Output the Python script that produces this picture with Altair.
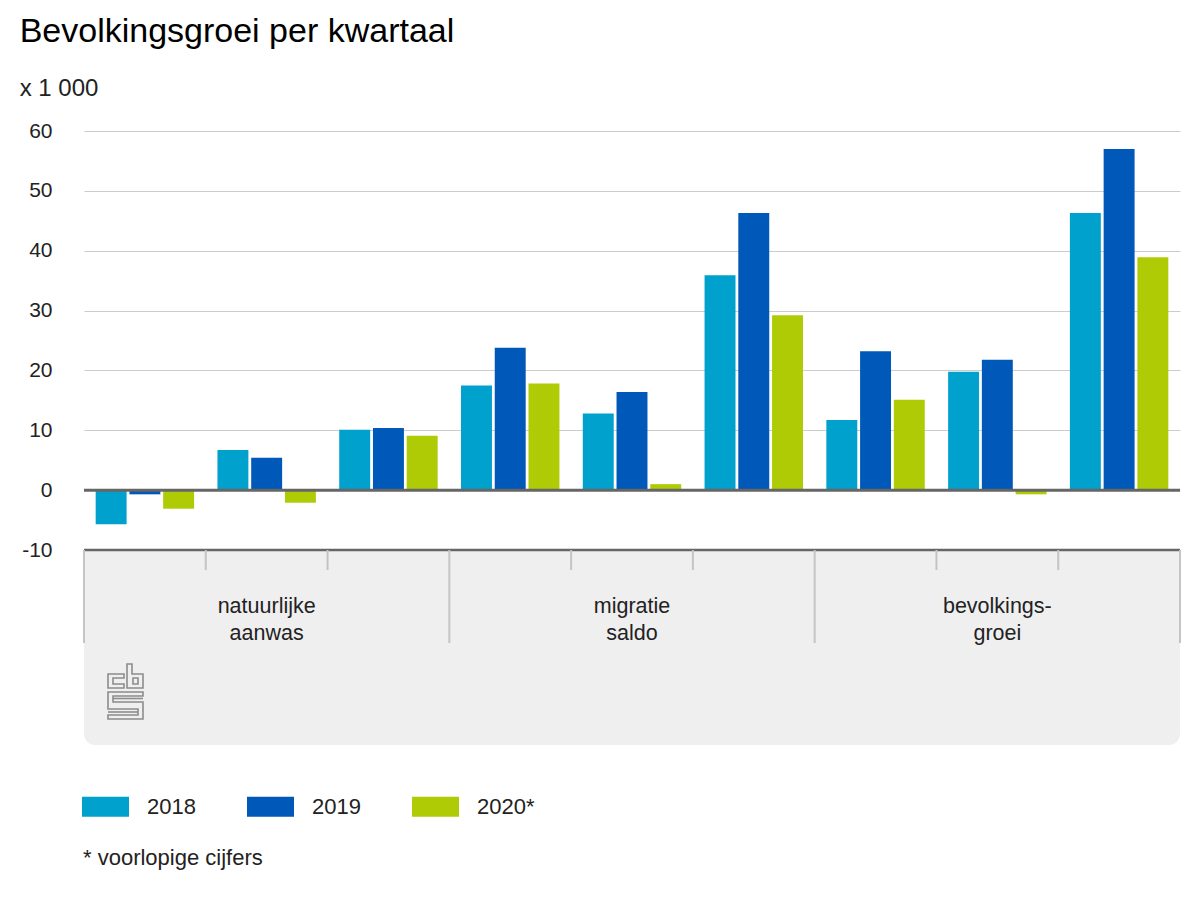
import urllib.parse
import altair as alt
import pandas as pd

# ---------------- data (x 1 000) ----------------
CATEGORIES = ["natuurlijke aanwas", "migratie saldo", "bevolkingsgroei"]
CATEGORY_LABELS = ["natuurlijke\naanwas", "migratie\nsaldo", "bevolkings-\ngroei"]
QUARTERS = ["1e kwartaal", "2e kwartaal", "3e kwartaal"]
YEARS = ["2018", "2019", "2020*"]
COLORS = ["#00a1cd", "#0058b8", "#afcb05"]

# per group: natuurlijke aanwas K1..K3, migratie saldo K1..K3, bevolkingsgroei K1..K3
V_2018 = [-5.7, 6.7, 10.1, 17.5, 12.8, 35.9, 11.7, 19.8, 46.3]
V_2019 = [-0.7, 5.4, 10.4, 23.8, 16.4, 46.3, 23.2, 21.8, 57.0]
V_2020 = [-3.1, -2.1, 9.1, 17.8, 1.0, 29.2, 15.1, -0.7, 38.9]
Y_TICKS = [-10, 0, 10, 20, 30, 40, 50, 60]

TITLE = "Bevolkingsgroei per kwartaal"
UNIT = "x 1 000"
FOOTNOTE = "* voorlopige cijfers"

FONT = "Liberation Sans, Arial, Helvetica, sans-serif"

# ---------------- layout ----------------
W = 1096
PLOT_H = 419            # -10 .. 60
BOX_H = 195             # grey category box below the axis
H = PLOT_H + BOX_H
Y_MAX = 60
Y_MIN = -10 - BOX_H * 70 / PLOT_H

rows = []
for ci, cat in enumerate(CATEGORIES):
    for qi, q in enumerate(QUARTERS):
        g = ci * len(QUARTERS) + qi
        for yr, vals in zip(YEARS, [V_2018, V_2019, V_2020]):
            rows.append({"groep": f"{cat}, {q}", "jaar": yr, "waarde": vals[g]})
df = pd.DataFrame(rows)
GROUPS = list(dict.fromkeys(df["groep"]))
NG = len(GROUPS)

yscale = alt.Scale(domain=[Y_MIN, Y_MAX], nice=False, zero=False)
xq = alt.Scale(domain=[0, NG], nice=False, zero=False)

bars = alt.Chart(df).mark_bar().encode(
    x=alt.X("groep:N", sort=GROUPS, axis=None,
            scale=alt.Scale(paddingInner=0, paddingOuter=0)),
    xOffset=alt.XOffset("jaar:N", sort=YEARS,
                        scale=alt.Scale(paddingInner=0.083, paddingOuter=0.346)),
    y=alt.Y("waarde:Q", stack=None, scale=yscale,
            axis=alt.Axis(values=Y_TICKS, title=None, grid=True, gridColor="#cccccc",
                          gridWidth=1, ticks=False, domain=False, labelFontSize=21,
                          labelExpr="'' + datum.value",
                          labelPadding=32, labelColor="#222222", labelFont=FONT)),
    color=alt.Color("jaar:N", sort=YEARS,
                    scale=alt.Scale(domain=YEARS, range=COLORS),
                    legend=alt.Legend(title=None, orient="none", legendX=-2, legendY=652,
                                      direction="horizontal",
                                      symbolType="M-1,-0.4255H1V0.4255H-1Z",
                                      symbolSize=2209, symbolStrokeWidth=0,
                                      labelFontSize=22, labelFont=FONT, labelOffset=18,
                                      columnPadding=51, labelColor="#222222")),
)

one = pd.DataFrame({"a": [0]})

bg = alt.Chart(one).mark_rect(color="#efefef", cornerRadiusBottomLeft=11,
                              cornerRadiusBottomRight=11).encode(
    x=alt.XDatum(0, type="quantitative", scale=xq, axis=None),
    x2=alt.X2Datum(NG),
    y=alt.YDatum(-10, type="quantitative", scale=yscale),
    y2=alt.value(H),
)

# separators between quarter groups and categories
n_q = len(QUARTERS)
sep_rows = []
for b in range(NG + 1):
    sep_rows.append({"pos": b, "lang": b % n_q == 0})
sep_df = pd.DataFrame(sep_rows)

sep_short = alt.Chart(sep_df).transform_filter("!datum.lang").mark_rule(
    color="#c4c4c4", strokeWidth=2).encode(
    x=alt.X("pos:Q", scale=xq, axis=None),
    y=alt.YDatum(-10, type="quantitative", scale=yscale),
    y2=alt.value(PLOT_H + 20),
)
sep_long = alt.Chart(sep_df).transform_filter("datum.lang").mark_rule(
    color="#c4c4c4", strokeWidth=2).encode(
    x=alt.X("pos:Q", scale=xq, axis=None),
    y=alt.YDatum(-10, type="quantitative", scale=yscale),
    y2=alt.value(PLOT_H + 93),
)

zero_line = alt.Chart(one).mark_rule(color="#666666", strokeWidth=3).encode(
    y=alt.YDatum(0, type="quantitative", scale=yscale))
base_line = alt.Chart(one).mark_rule(color="#666666", strokeWidth=2.5).encode(
    y=alt.YDatum(-10, type="quantitative", scale=yscale))

cat_df = pd.DataFrame({
    "mid": [ci * n_q + n_q / 2 for ci in range(len(CATEGORIES))],
    "label": CATEGORY_LABELS,
})
cat_text = alt.Chart(cat_df).mark_text(
    fontSize=21.5, font=FONT, color="#222222", align="center", baseline="alphabetic",
    lineBreak="\n", lineHeight=27).encode(
    x=alt.X("mid:Q", scale=xq, axis=None),
    y=alt.value(PLOT_H + 63),
    text="label:N",
)

LOGO_SVG = (
    "<svg xmlns='http://www.w3.org/2000/svg' width='37' height='57' viewBox='0 0 37 57'>"
    "<g fill='none' stroke='#8c8c8c' stroke-width='1.6'>"
    "<path d='M1,11 H17 V15 H6 V21 H17 V25 H1 Z'/>"
    "<path d='M20,1 H25 V11 H36 V25 H20 Z'/>"
    "<path d='M26,15 H31 V21 H26 Z'/>"
    "<path d='M1,29 H36 V33 H6 V39 H36 V56 H1 V52 H31 V46 H1 Z'/>"
    "<path d='M6,35.5 H36'/>"
    "<path d='M1,49 H31'/>"
    "</g></svg>"
)
LOGO = "data:image/svg+xml;charset=utf-8," + urllib.parse.quote(LOGO_SVG)

logo = alt.Chart(one).mark_image(width=37, height=57, align="left", baseline="top").encode(
    x=alt.value(23), y=alt.value(PLOT_H + 113), url=alt.value(LOGO))

foot = alt.Chart(one).mark_text(fontSize=22, font=FONT, color="#222222", align="left",
                                baseline="middle").encode(
    x=alt.value(-1), y=alt.value(727), text=alt.value(FOOTNOTE))

chart = alt.layer(
    bg, bars, zero_line, base_line, sep_short, sep_long, cat_text, logo, foot
).resolve_scale(x="independent").properties(
    width=W, height=H,
    background="white",
    padding={"left": 76, "top": 123, "right": 12, "bottom": 150},
    autosize=alt.AutoSizeParams(type="none"),
    title=alt.Title(TITLE, subtitle=UNIT, anchor="start", fontSize=34, fontWeight="normal",
                    font=FONT, color="#000000", subtitleFont=FONT, subtitleFontSize=24,
                    subtitleColor="#222222", subtitlePadding=28, offset=19, dx=-2),
).configure_view(strokeWidth=0, stroke="transparent")

chart.save("out.html", embed_options={"renderer": "svg", "actions": False})
